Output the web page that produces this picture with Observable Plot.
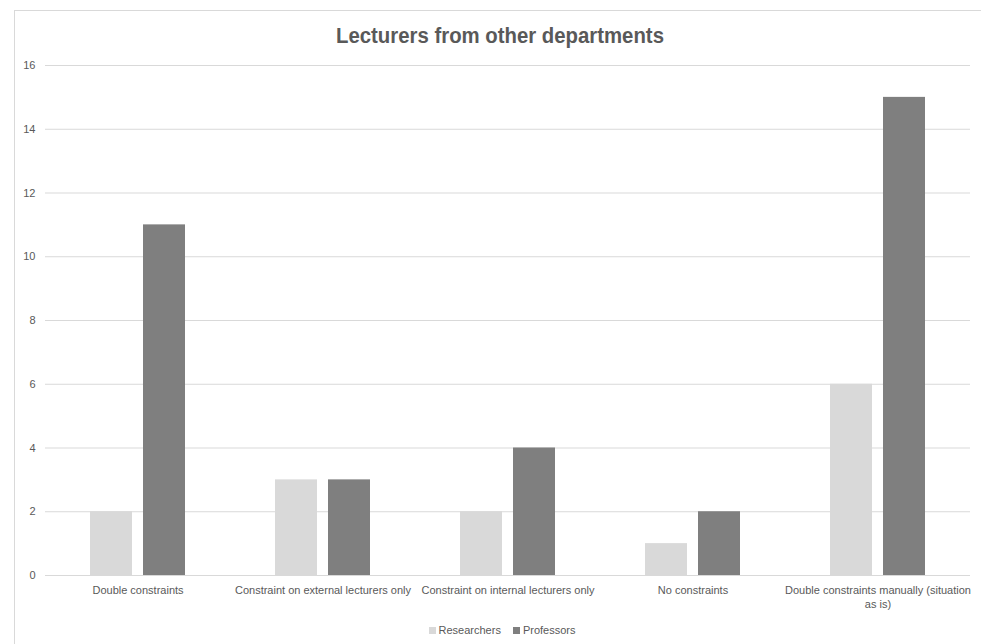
<!DOCTYPE html>
<html>
<head>
<meta charset="utf-8">
<script src="https://cdn.jsdelivr.net/npm/d3@7"></script>
<script src="https://cdn.jsdelivr.net/npm/@observablehq/plot@0.6"></script>
<style>
  html, body { margin: 0; padding: 0; background: #fff; width: 981px; height: 644px; overflow: hidden; }
  #frame { position: absolute; left: 14px; top: 10px; width: 980px; height: 650px; border: 1px solid #d9d9d9; box-sizing: border-box; }
  #title { position: absolute; left: 0; top: 23px; width: 1000px; text-align: center; font-family: "Liberation Sans", sans-serif; font-weight: bold; font-size: 22px; line-height: 26px; color: #595959; transform: scaleX(0.925); transform-origin: 500px 0; }
  #chart { position: absolute; left: 0; top: 50px; }
  #legend { position: absolute; left: 0; top: 622px; width: 1004px; text-align: center; font-family: "Liberation Sans", sans-serif; font-size: 11px; line-height: 16px; color: #595959; }
  #legend .item { display: inline-block; margin: 0 6px; }
  #legend .sw { display: inline-block; width: 7px; height: 7px; margin-right: 3px; vertical-align: 0px; }
</style>
</head>
<body>
<div id="frame"></div>
<div id="title">Lecturers from other departments</div>
<div id="chart"></div>
<div id="legend"></div>
<script>
const categories = [
  "Double constraints",
  "Constraint on external lecturers only",
  "Constraint on internal lecturers only",
  "No constraints",
  "Double constraints manually (situation as is)"
];
const categoryLines = [
  "Double constraints",
  "Constraint on external lecturers only",
  "Constraint on internal lecturers only",
  "No constraints",
  "Double constraints manually (situation\nas is)"
];
const series = ["Researchers", "Professors"];
const researchers = [2, 3, 2, 1, 6];
const professors = [11, 3, 4, 2, 15];
const seriesColors = ["#d9d9d9", "#7f7f7f"];
const yTicks = [0, 2, 4, 6, 8, 10, 12, 14, 16];

const values = {Researchers: researchers, Professors: professors};
const rows = series.flatMap(s => categories.map((c, i) => ({category: c, series: s, value: values[s][i]})));
const labelOf = new Map(categories.map((c, i) => [c, categoryLines[i]]));

const chart = Plot.plot({
  width: 981,
  height: 560,
  marginTop: 15,
  marginBottom: 35,
  marginLeft: 45,
  marginRight: 11,
  style: {fontFamily: "Liberation Sans, sans-serif", fontSize: "11px", color: "#595959", background: "transparent"},
  fx: {domain: categories, padding: 0, label: null, axis: null},
  x: {domain: series, paddingInner: 0.2075, paddingOuter: 0.849, axis: null},
  y: {domain: [0, 16], label: null},
  color: {domain: series, range: seriesColors},
  marks: [
    Plot.gridY(yTicks, {stroke: "#d9d9d9", strokeOpacity: 1}),
    Plot.axisY(yTicks, {tickSize: 0, tickPadding: 10, label: null, fill: "#595959"}),
    Plot.axisFx({anchor: "bottom", tickSize: 0, tickPadding: 8, label: null, fill: "#595959", lineHeight: 1.3, tickFormat: c => labelOf.get(c)}),
    Plot.barY(rows, {fx: "category", x: "series", y: "value", fill: "series"}),
    Plot.ruleY([0], {stroke: "#d9d9d9"})
  ]
});
document.getElementById("chart").appendChild(chart);

const legend = document.getElementById("legend");
series.forEach((s, i) => {
  const item = document.createElement("span");
  item.className = "item";
  const sw = document.createElement("span");
  sw.className = "sw";
  sw.style.background = seriesColors[i];
  item.appendChild(sw);
  item.appendChild(document.createTextNode(s));
  legend.appendChild(item);
});
</script>
</body>
</html>
